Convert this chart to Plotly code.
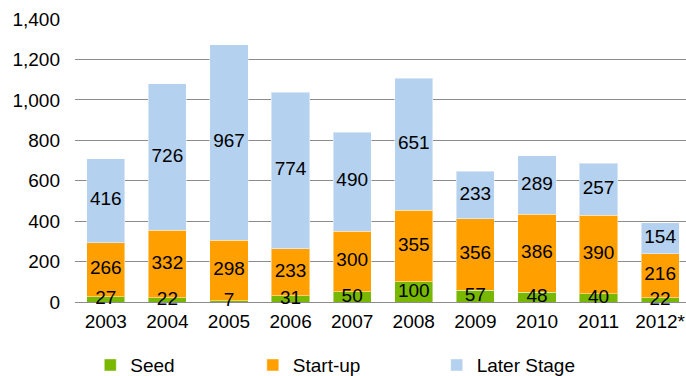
import plotly.graph_objects as go

years = ["2003", "2004", "2005", "2006", "2007", "2008", "2009", "2010", "2011", "2012*"]
seed = [27, 22, 7, 31, 50, 100, 57, 48, 40, 22]
startup = [266, 332, 298, 233, 300, 355, 356, 386, 390, 216]
later = [416, 726, 967, 774, 490, 651, 233, 289, 257, 154]
y_ticks = [0, 200, 400, 600, 800, 1000, 1200, 1400]

FONT = "Liberation Sans, Arial, sans-serif"
FS = 19
colors = {"Seed": "#78B800", "Start-up": "#FFA000", "Later Stage": "#B4D1EF"}

fig = go.Figure()
series = [("Seed", seed, "legend"), ("Start-up", startup, "legend2"), ("Later Stage", later, "legend3")]
base = [0] * len(years)
for name, vals, lg in series:
    fig.add_trace(go.Bar(
        x=years, y=vals, name=name,
        marker=dict(color=colors[name], line=dict(width=1, color="rgba(255,255,255,0.45)")),
        width=0.62, legend=lg,
    ))
    # value labels at the middle of each segment
    fig.add_trace(go.Scatter(
        x=years, y=[b + v / 2 for b, v in zip(base, vals)], text=[str(v) for v in vals],
        mode="text", textfont=dict(family=FONT, size=FS, color="#000000"),
        showlegend=False, hoverinfo="skip", cliponaxis=False,
    ))
    base = [b + v for b, v in zip(base, vals)]

legend_common = dict(orientation="h", y=-0.223, xanchor="left", yanchor="middle",
                     font=dict(size=FS), itemwidth=30, bgcolor="rgba(0,0,0,0)")
fig.update_layout(
    barmode="stack",
    width=686, height=376,
    margin=dict(l=75, r=0, t=19, b=74, autoexpand=False),
    plot_bgcolor="white", paper_bgcolor="white",
    font=dict(family=FONT, size=FS, color="#000000"),
    legend=dict(x=0.025, **legend_common),
    legend2=dict(x=0.291, **legend_common),
    legend3=dict(x=0.592, **legend_common),
)
fig.update_xaxes(type="category", range=[-0.5, 9.42], showgrid=False, ticks="",
                 showline=False, tickfont=dict(size=FS), ticklabelstandoff=6)
fig.update_yaxes(range=[0, 1400], tickvals=y_ticks, tickformat=",", showgrid=True,
                 gridcolor="#8C8C8C", gridwidth=1, zeroline=True, zerolinecolor="#8C8C8C",
                 zerolinewidth=1, showline=False, tickfont=dict(size=FS), ticklabelstandoff=14)

fig.write_html("out.html")
